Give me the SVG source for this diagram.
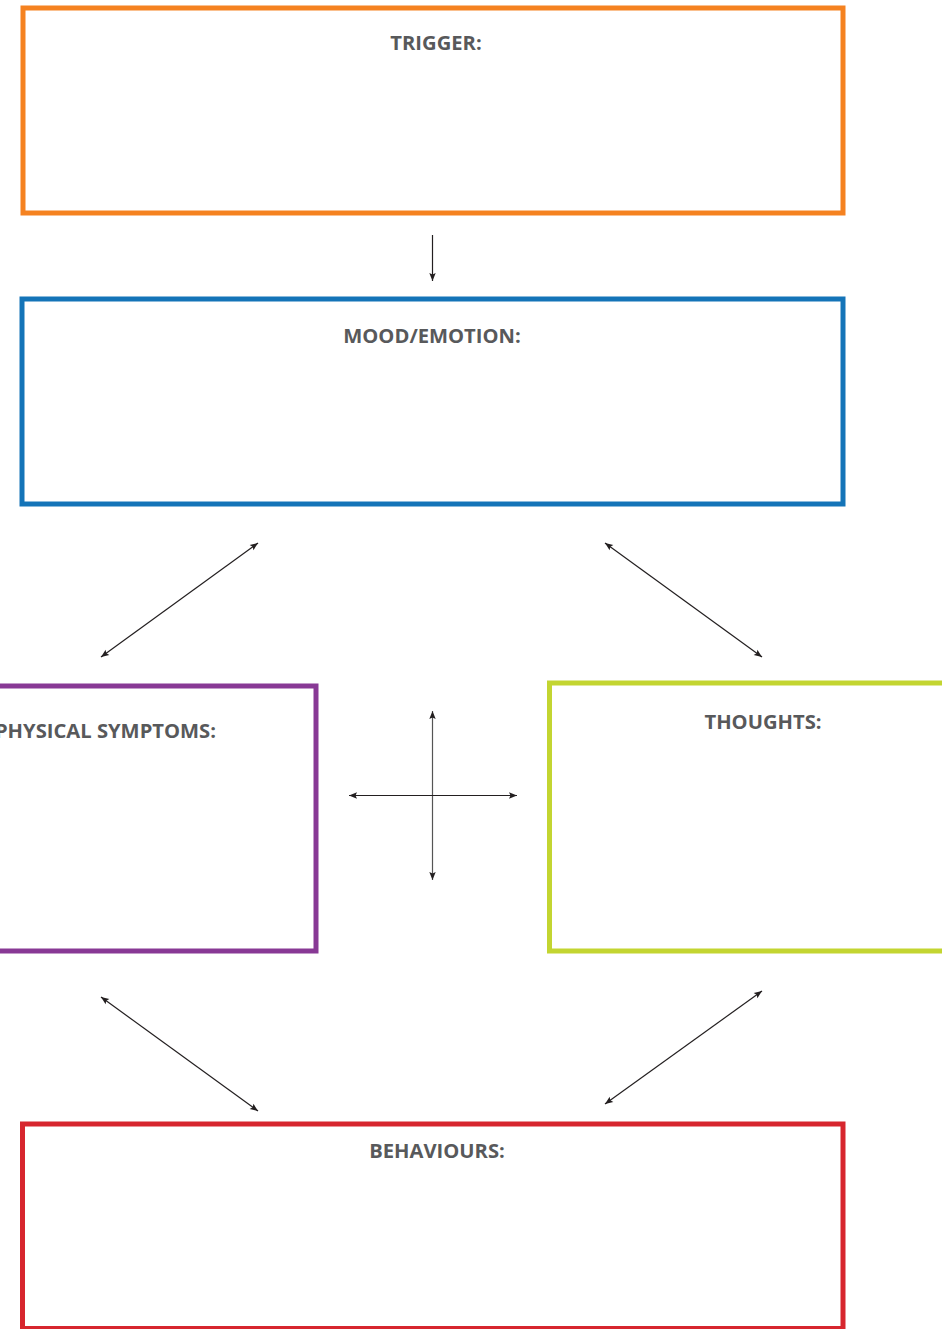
<svg xmlns="http://www.w3.org/2000/svg" width="942" height="1329" viewBox="0 0 942 1329">
<defs>
<style>
.box{fill:none;stroke-width:5}
.lbl{font-family:"Open Sans","Liberation Sans",sans-serif;font-weight:bold;font-size:20.2px;fill:#58595b}
.c{stroke:#231f20;stroke-width:1.2;fill:none;marker-end:url(#ah);marker-start:url(#ahs)}
</style>
<marker id="ah" markerUnits="userSpaceOnUse" markerWidth="10" markerHeight="10" viewBox="0 0 10 10" refX="9" refY="5" orient="auto">
<path d="M1,1.8 L9,5 L1,8.2 L2.5,5 Z" fill="#231f20"/>
</marker>
<marker id="ahs" markerUnits="userSpaceOnUse" markerWidth="10" markerHeight="10" viewBox="0 0 10 10" refX="9" refY="5" orient="auto-start-reverse">
<path d="M1,1.8 L9,5 L1,8.2 L2.5,5 Z" fill="#231f20"/>
</marker>
</defs>
<rect width="942" height="1329" fill="#fff"/>
<g id="trigger">
<rect class="box" x="23" y="8" width="820" height="205" stroke="#f58220"/>
<text class="lbl" x="436" y="50" text-anchor="middle">TRIGGER:</text>
</g>
<g id="mood">
<rect class="box" x="22" y="299" width="821" height="205" stroke="#1474b8"/>
<text class="lbl" x="432" y="343" text-anchor="middle">MOOD/EMOTION:</text>
</g>
<g id="physical">
<rect class="box" x="-20" y="686" width="336" height="265" stroke="#883995"/>
<text class="lbl" x="216" y="738" text-anchor="end">PHYSICAL SYMPTOMS:</text>
</g>
<g id="thoughts">
<rect class="box" x="549.5" y="683" width="420" height="268" stroke="#c3d531"/>
<text class="lbl" x="763" y="729" text-anchor="middle">THOUGHTS:</text>
</g>
<g id="behaviours">
<rect class="box" x="22.5" y="1124" width="820.5" height="204.5" stroke="#d7262e"/>
<text class="lbl" x="437" y="1158" text-anchor="middle">BEHAVIOURS:</text>
</g>
<g id="connectors">
<line x1="432.5" y1="235" x2="432.5" y2="281" stroke="#231f20" stroke-width="1.2" marker-end="url(#ah)"/>
<line class="c" x1="101" y1="657" x2="258" y2="543"/>
<line class="c" x1="605" y1="543" x2="762" y2="657"/>
<line class="c" x1="432.5" y1="711" x2="432.5" y2="880" style="stroke:#555"/>
<line class="c" x1="349" y1="795.5" x2="517" y2="795.5"/>
<line class="c" x1="101" y1="997" x2="258" y2="1111"/>
<line class="c" x1="762" y1="991" x2="605" y2="1104"/>
</g>
</svg>
